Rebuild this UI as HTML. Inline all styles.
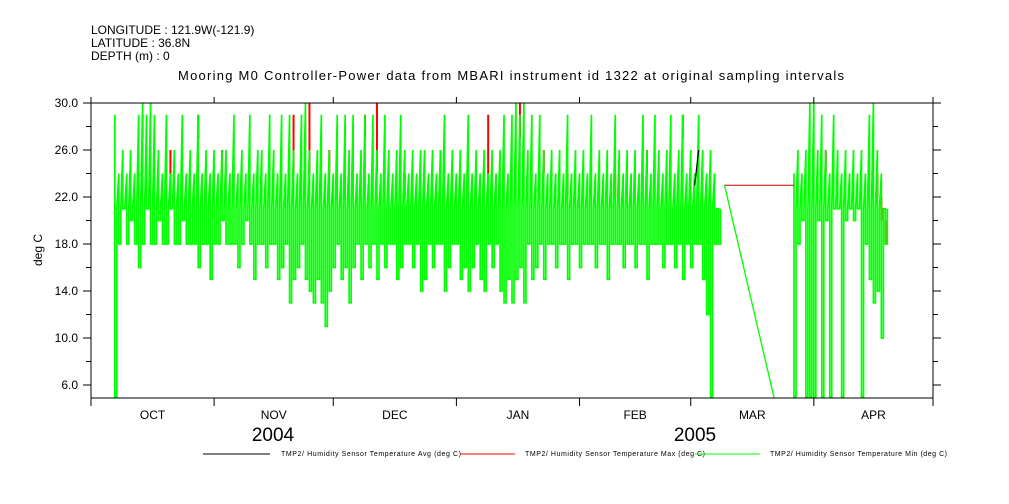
<!DOCTYPE html>
<html><head><meta charset="utf-8"><style>
body{margin:0;background:#fff;}
svg{display:block;font-family:"Liberation Sans",sans-serif;}
</style></head><body>
<svg id="chart" width="1009" height="504" viewBox="0 0 1009 504">
<g font-size="12" fill="#000">
<text x="91" y="34">LONGITUDE : 121.9W(-121.9)</text>
<text x="91" y="47">LATITUDE : 36.8N</text>
<text x="91" y="60">DEPTH (m) : 0</text>
<text x="511" y="80" text-anchor="middle" font-size="13" textLength="666">Mooring M0 Controller-Power data from MBARI instrument id 1322 at original sampling intervals</text>
</g>
<text transform="translate(42,250) rotate(-90)" text-anchor="middle" font-size="12">deg C</text>
<g id="series"></g>
<rect x="91" y="103" width="842" height="295" fill="none" stroke="#000" stroke-width="1"/>
<g id="axes"></g>
<g font-size="19">
<text x="273" y="441" text-anchor="middle">2004</text>
<text x="695" y="441" text-anchor="middle">2005</text>
</g>
<g font-size="7">
<line x1="203" y1="454" x2="270" y2="454" stroke="#000"/>
<text x="281" y="456" textLength="180">TMP2/ Humidity Sensor Temperature Avg (deg C)</text>
<line x1="460" y1="454" x2="515" y2="454" stroke="#f00"/>
<text x="525" y="456" textLength="180">TMP2/ Humidity Sensor Temperature Max (deg C)</text>
<line x1="695" y1="454" x2="760" y2="454" stroke="#0f0"/>
<text x="770" y="456" textLength="177">TMP2/ Humidity Sensor Temperature Min (deg C)</text>
</g>
</svg>
<script>
const yTicks=[30,26,22,18,14,10,6];
const yTickLabels=["30.0","26.0","22.0","18.0","14.0","10.0","6.0"];
const monthBoundaries=[0,31,61,92,123,151,182,212];
const monthLabels=["OCT","NOV","DEC","JAN","FEB","MAR","APR"];
const seg1Start=6;
const seg1Hi=[29,24,26,24,26,24,29,30,29,30,29,26,24,29,24,26,24,29,24,26,24,29,24,26,24,26,24,26,26,24,29,24,26,24,29,24,26,26,24,29,26,24,29,24,29,26,24,29,30,26,24,26,29,24,26,24,29,24,29,26,29,24,26,29,24,29,26,24,29,26,24,26,29,26,24,26,24,26,26,24,26,24,26,29,24,26,24,26,24,29,24,26,24,26,24,26,24,26,29,24,29,30,29,30,26,29,24,29,26,24,26,24,26,24,29,24,26,24,26,24,29,24,26,24,26,24,29,26,24,26,24,26,24,29,26,24,29,26,24,26,29,24,26,29,24,26,24,29,26,24,26,24,21];
const seg1Lo=[5,18,21,18,20,18,16,18,21,18,18,20,18,18,21,18,18,20,18,18,18,16,18,18,15,18,18,20,18,18,18,16,18,20,18,15,18,18,16,18,18,15,16,18,13,15,16,18,15,14,13,15,13,11,14,16,18,15,16,13,16,18,15,18,16,18,15,18,16,18,18,15,16,18,18,16,18,14,15,18,16,18,18,14,16,18,18,15,16,14,16,18,15,14,18,16,18,14,13,15,13,15,16,13,18,15,16,18,15,18,18,16,18,18,15,18,18,16,18,18,18,16,18,18,15,18,18,18,16,18,18,16,18,18,15,18,18,18,16,18,18,16,18,15,18,16,18,18,15,12,5,18,18];
const seg2Start=177;
const seg2Hi=[24,26,24,26,30,30,26,29,26,24,29,26,24,26,24,26,24,26,24,29,30,26,24,21];
const seg2Lo=[5,18,20,5,5,5,20,5,20,5,21,21,5,20,21,20,21,5,18,15,13,14,10,18];
const maxDays=[13,20,27,33,51,55,60,69,72,79,88,100,108,114,120,132,140,149,185,198,199,200];
const maxVals=[29,26,29,26,29,30,26,29,30,24,26,29,30,26,24,24,26,29,26,24,22,20];
const gapValue=23;
const avgDays=[152,153];
const avgVals=[23,26];

const NS="http://www.w3.org/2000/svg";
const X0=91,X1=933,Y0=103,Y1=398,DAYS=212,VMAX=30,VMIN=30-295/11.75;
function xs(d){return X0+d*(X1-X0)/DAYS;}
function ys(v){return Y0+(VMAX-v)*(Y1-Y0)/(VMAX-VMIN);}
function mk(t,a,p){const e=document.createElementNS(NS,t);for(const k in a)e.setAttribute(k,a[k]);p.appendChild(e);return e;}
const axes=document.getElementById('axes'),ser=document.getElementById('series');
yTicks.forEach((v,i)=>{
 const y=ys(v);
 const l=mk('line',{x1:X0-8,y1:y,x2:X0,y2:y,stroke:'#000'},axes);
 
 
 const r=mk('line',{x1:X1,y1:y,x2:X1+8,y2:y,stroke:'#000'},axes);
 
 
 const t=mk('text',{x:X0-13,y:y+4,'text-anchor':'end','font-size':12},axes);
 t.textContent=yTickLabels[i];
 
 
 if(i<yTicks.length-1){const ym=ys(v-2);
  const m=mk('line',{x1:X0-5,y1:ym,x2:X0,y2:ym,stroke:'#000'},axes);
  
  
  const m2=mk('line',{x1:X1,y1:ym,x2:X1+5,y2:ym,stroke:'#000'},axes);
  
  }
});
monthBoundaries.forEach((d,i)=>{
 const x=xs(d);
 const b=mk('line',{x1:x,y1:Y1,x2:x,y2:Y1+8,stroke:'#000'},axes);
 
 
 const t=mk('line',{x1:x,y1:Y0-6,x2:x,y2:Y0,stroke:'#000'},axes);
 
 
 if(i<monthLabels.length){
  const tx=mk('text',{x:(x+xs(monthBoundaries[i+1]))/2,y:Y1+21,'text-anchor':'middle','font-size':12},axes);
  tx.textContent=monthLabels[i];
  
  }
});
function zig(start,hi,lo){
 const pts=[];
 for(let i=0;i<hi.length;i++){
  const x=xs(start+i);
  const band=Math.min(21,hi[i]);
  pts.push(x+','+ys(hi[i]));
  pts.push(x+','+ys(lo[i]));
  pts.push((x+2)+','+ys(lo[i]));
  pts.push((x+2)+','+ys(band));
 }
 return pts.join(' ');
}
maxDays.forEach((d,i)=>{
 const x=xs(d);
 const base=d<seg2Start?seg1Hi[d-seg1Start]:seg2Hi[d-seg2Start];
 const lo=Math.min(base,maxVals[i])-2;
 const l=mk('line',{x1:x,y1:ys(maxVals[i]),x2:x,y2:ys(lo),stroke:'#f00','stroke-width':2},ser);
 
 
});
const g1=mk('polyline',{points:zig(seg1Start,seg1Hi,seg1Lo),fill:'none',stroke:'#0f0','stroke-width':1.7},ser);


const g2=mk('polyline',{points:zig(seg2Start,seg2Hi,seg2Lo),fill:'none',stroke:'#0f0','stroke-width':1.7},ser);


const lastD=seg1Start+seg1Hi.length;
const gx=mk('line',{x1:xs(lastD)+2,y1:ys(gapValue),x2:xs(seg2Start),y2:ys(gapValue),stroke:'#c00','stroke-width':1},ser);


const dg=mk('line',{x1:xs(lastD)+2,y1:ys(gapValue),x2:xs(172),y2:Y1,stroke:'#0f0','stroke-width':1.3},ser);


const av=mk('polyline',{points:avgDays.map((d,i)=>xs(d)+','+ys(avgVals[i])).join(' '),fill:'none',stroke:'#000','stroke-width':1.2},ser);


</script>
</body></html>
